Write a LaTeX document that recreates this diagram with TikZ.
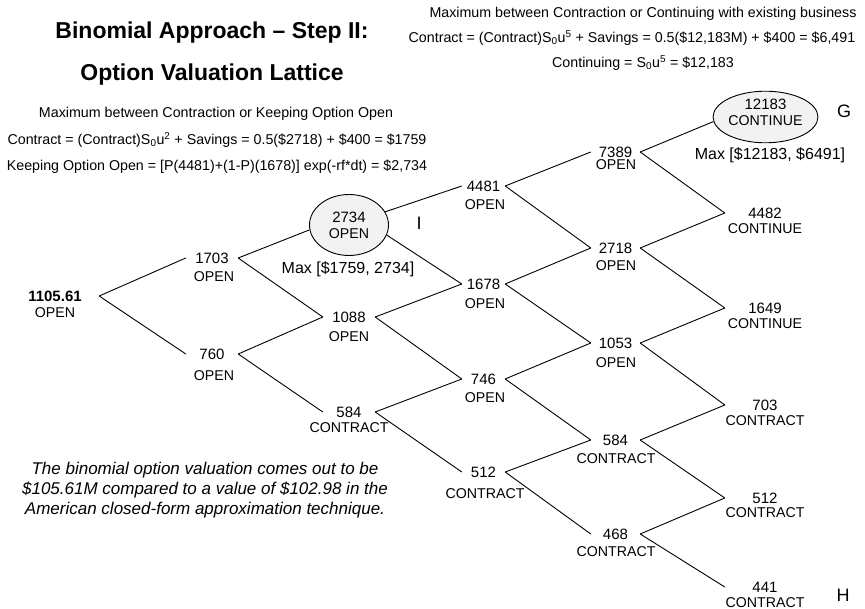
\documentclass[tikz,border=0pt]{standalone}
\usepackage{fontspec}
\setmainfont{Liberation Sans}
\usetikzlibrary{shapes.geometric}
\definecolor{ovalgray}{HTML}{F2F2F2}
\newcommand{\myfs}[1]{\fontsize{#1}{#1}\selectfont}
\begin{document}
\begin{tikzpicture}[x=1pt,y=-1pt,
  num/.style={inner sep=0pt, font=\myfs{15}},
  lab/.style={inner sep=0pt, font=\myfs{14.2}},
  txt/.style={inner sep=0pt, font=\myfs{14.25}},
  ttl/.style={inner sep=0pt, font=\bfseries\myfs{23}},
  note/.style={inner sep=0pt, font=\itshape\myfs{17}},
  maxl/.style={inner sep=0pt, font=\myfs{16}},
  tag/.style={inner sep=0pt, font=\myfs{18}},
  oval/.style={ellipse, draw, fill=ovalgray, line width=0.9pt, inner sep=0pt, align=center, font=\fontsize{14.2}{16}\selectfont},
  edge/.style={line width=0.9pt},
  w0/.style={num, font=\bfseries\myfs{15}, minimum width=88pt},
  w1/.style={num, minimum width=52pt},
  w2/.style={num, minimum width=52pt},
  w3/.style={num, minimum width=43pt},
  w4/.style={num, minimum width=49pt},
  w5/.style={num, minimum width=80pt}
]
\useasboundingbox (0,0) rectangle (865,609);

% titles and text blocks
\node[ttl] (t1) at (212,33) {Binomial Approach -- Step II:};
\node[ttl] (t2) at (212,75) {Option Valuation Lattice};
\node[txt] (l1) at (216,114) {Maximum between Contraction or Keeping Option Open};
\node[txt] (l2) at (217,140) {Contract = (Contract)S\textsubscript{0}u\textsuperscript{2} + Savings = 0.5(\$2718) + \$400 = \$1759};
\node[txt] (l3) at (217,167) {Keeping Option Open = [P(4481)+(1-P)(1678)] exp(-rf*dt) = \$2,734};
\node[txt] (r1) at (643,14) {Maximum between Contraction or Continuing with existing business};
\node[txt] (r2) at (632,38) {Contract = (Contract)S\textsubscript{0}u\textsuperscript{5} + Savings = 0.5(\$12,183M) + \$400 = \$6,491};
\node[txt] (r3) at (643,63) {Continuing = S\textsubscript{0}u\textsuperscript{5} = \$12,183};
\node[note] (n1) at (205,470) {The binomial option valuation comes out to be};
\node[note] (n2) at (205,490) {\$105.61M compared to a value of \$102.98 in the};
\node[note] (n3) at (205,510) {American closed-form approximation technique.};

% lattice nodes
\node[w0] (R) at (55,296) {1105.61};
\node[lab] (Rl) at (55,313) {OPEN};

\node[w1] (A1) at (212,258) {1703};
\node[lab] (A1l) at (214,277) {OPEN};
\node[w1] (A2) at (212,354) {760};
\node[lab] (A2l) at (214,376) {OPEN};

\node[oval, minimum width=79pt, minimum height=61pt] (E1) at (349,225) {{\fontsize{15}{16}\selectfont 2734}\\OPEN};
\node[w2] (B2) at (349,317) {1088};
\node[lab] (B2l) at (349,337) {OPEN};
\node[w2] (B3) at (349,412) {584};
\node[lab] (B3l) at (349,428) {CONTRACT};

\node[w3] (C1) at (483.5,186) {4481};
\node[lab] (C1l) at (485,205) {OPEN};
\node[w3] (C2) at (483.5,284) {1678};
\node[lab] (C2l) at (485,304) {OPEN};
\node[w3] (C3) at (483.5,379) {746};
\node[lab] (C3l) at (485,398) {OPEN};
\node[w3] (C4) at (483.5,472) {512};
\node[lab] (C4l) at (485,494) {CONTRACT};

\node[w4] (D1) at (615.5,152) {7389};
\node[lab] (D1l) at (616,165) {OPEN};
\node[w4] (D2) at (615.5,248) {2718};
\node[lab] (D2l) at (616,266) {OPEN};
\node[w4] (D3) at (615.5,343) {1053};
\node[lab] (D3l) at (616,363) {OPEN};
\node[w4] (D4) at (615.5,440) {584};
\node[lab] (D4l) at (616,459) {CONTRACT};
\node[w4] (D5) at (615.5,534) {468};
\node[lab] (D5l) at (616,552) {CONTRACT};

\node[oval, minimum width=93pt, minimum height=50pt] (E2) at (765.5,117) {{\fontsize{15}{16}\selectfont 12183}\\CONTINUE\rule[-10pt]{0pt}{0pt}};
\node[w5] (F2) at (765,213) {4482};
\node[lab] (F2l) at (765,229) {CONTINUE};
\node[w5] (F3) at (765,308) {1649};
\node[lab] (F3l) at (765,324) {CONTINUE};
\node[w5] (F4) at (765,405) {703};
\node[lab] (F4l) at (765,421) {CONTRACT};
\node[w5] (F5) at (765,498) {512};
\node[lab] (F5l) at (765,513) {CONTRACT};
\node[w5] (F6) at (765,587) {441};
\node[lab] (F6l) at (765,602.5) {CONTRACT};

% annotations
\node[maxl] (m1) at (348,269) {Max [\$1759, 2734]};
\node[maxl] (m2) at (770,155) {Max [\$12183, \$6491]};
\node[tag] (tI) at (419,223) {I};
\node[tag] (tG) at (844,111) {G};
\node[tag] (tH) at (843,595) {H};

% connectors
\draw[edge] (R.east) -- (A1.west);
\draw[edge] (R.east) -- (A2.west);
\draw[edge] (A1.east) -- (E1.187);
\draw[edge] (A1.east) -- (B2.west);
\draw[edge] (A2.east) -- (B2.west);
\draw[edge] (A2.east) -- (B3.west);
\draw[edge] (E1.20) -- (C1.west);
\draw[edge] (E1.-15) -- (C2.west);
\draw[edge] (B2.east) -- (C2.west);
\draw[edge] (B2.east) -- (C3.west);
\draw[edge] (B3.east) -- (C3.west);
\draw[edge] (B3.east) -- (C4.west);
\draw[edge] (C1.east) -- (D1.west);
\draw[edge] (C1.east) -- (D2.west);
\draw[edge] (C2.east) -- (D2.west);
\draw[edge] (C2.east) -- (D3.west);
\draw[edge] (C3.east) -- (D3.west);
\draw[edge] (C3.east) -- (D4.west);
\draw[edge] (C4.east) -- (D4.west);
\draw[edge] (C4.east) -- (D5.west);
\draw[edge] (D1.east) -- (E2.185);
\draw[edge] (D1.east) -- (F2.west);
\draw[edge] (D2.east) -- (F2.west);
\draw[edge] (D2.east) -- (F3.west);
\draw[edge] (D3.east) -- (F3.west);
\draw[edge] (D3.east) -- (F4.west);
\draw[edge] (D4.east) -- (F4.west);
\draw[edge] (D4.east) -- (F5.west);
\draw[edge] (D5.east) -- (F5.west);
\draw[edge] (D5.east) -- (F6.west);
\end{tikzpicture}
\end{document}
